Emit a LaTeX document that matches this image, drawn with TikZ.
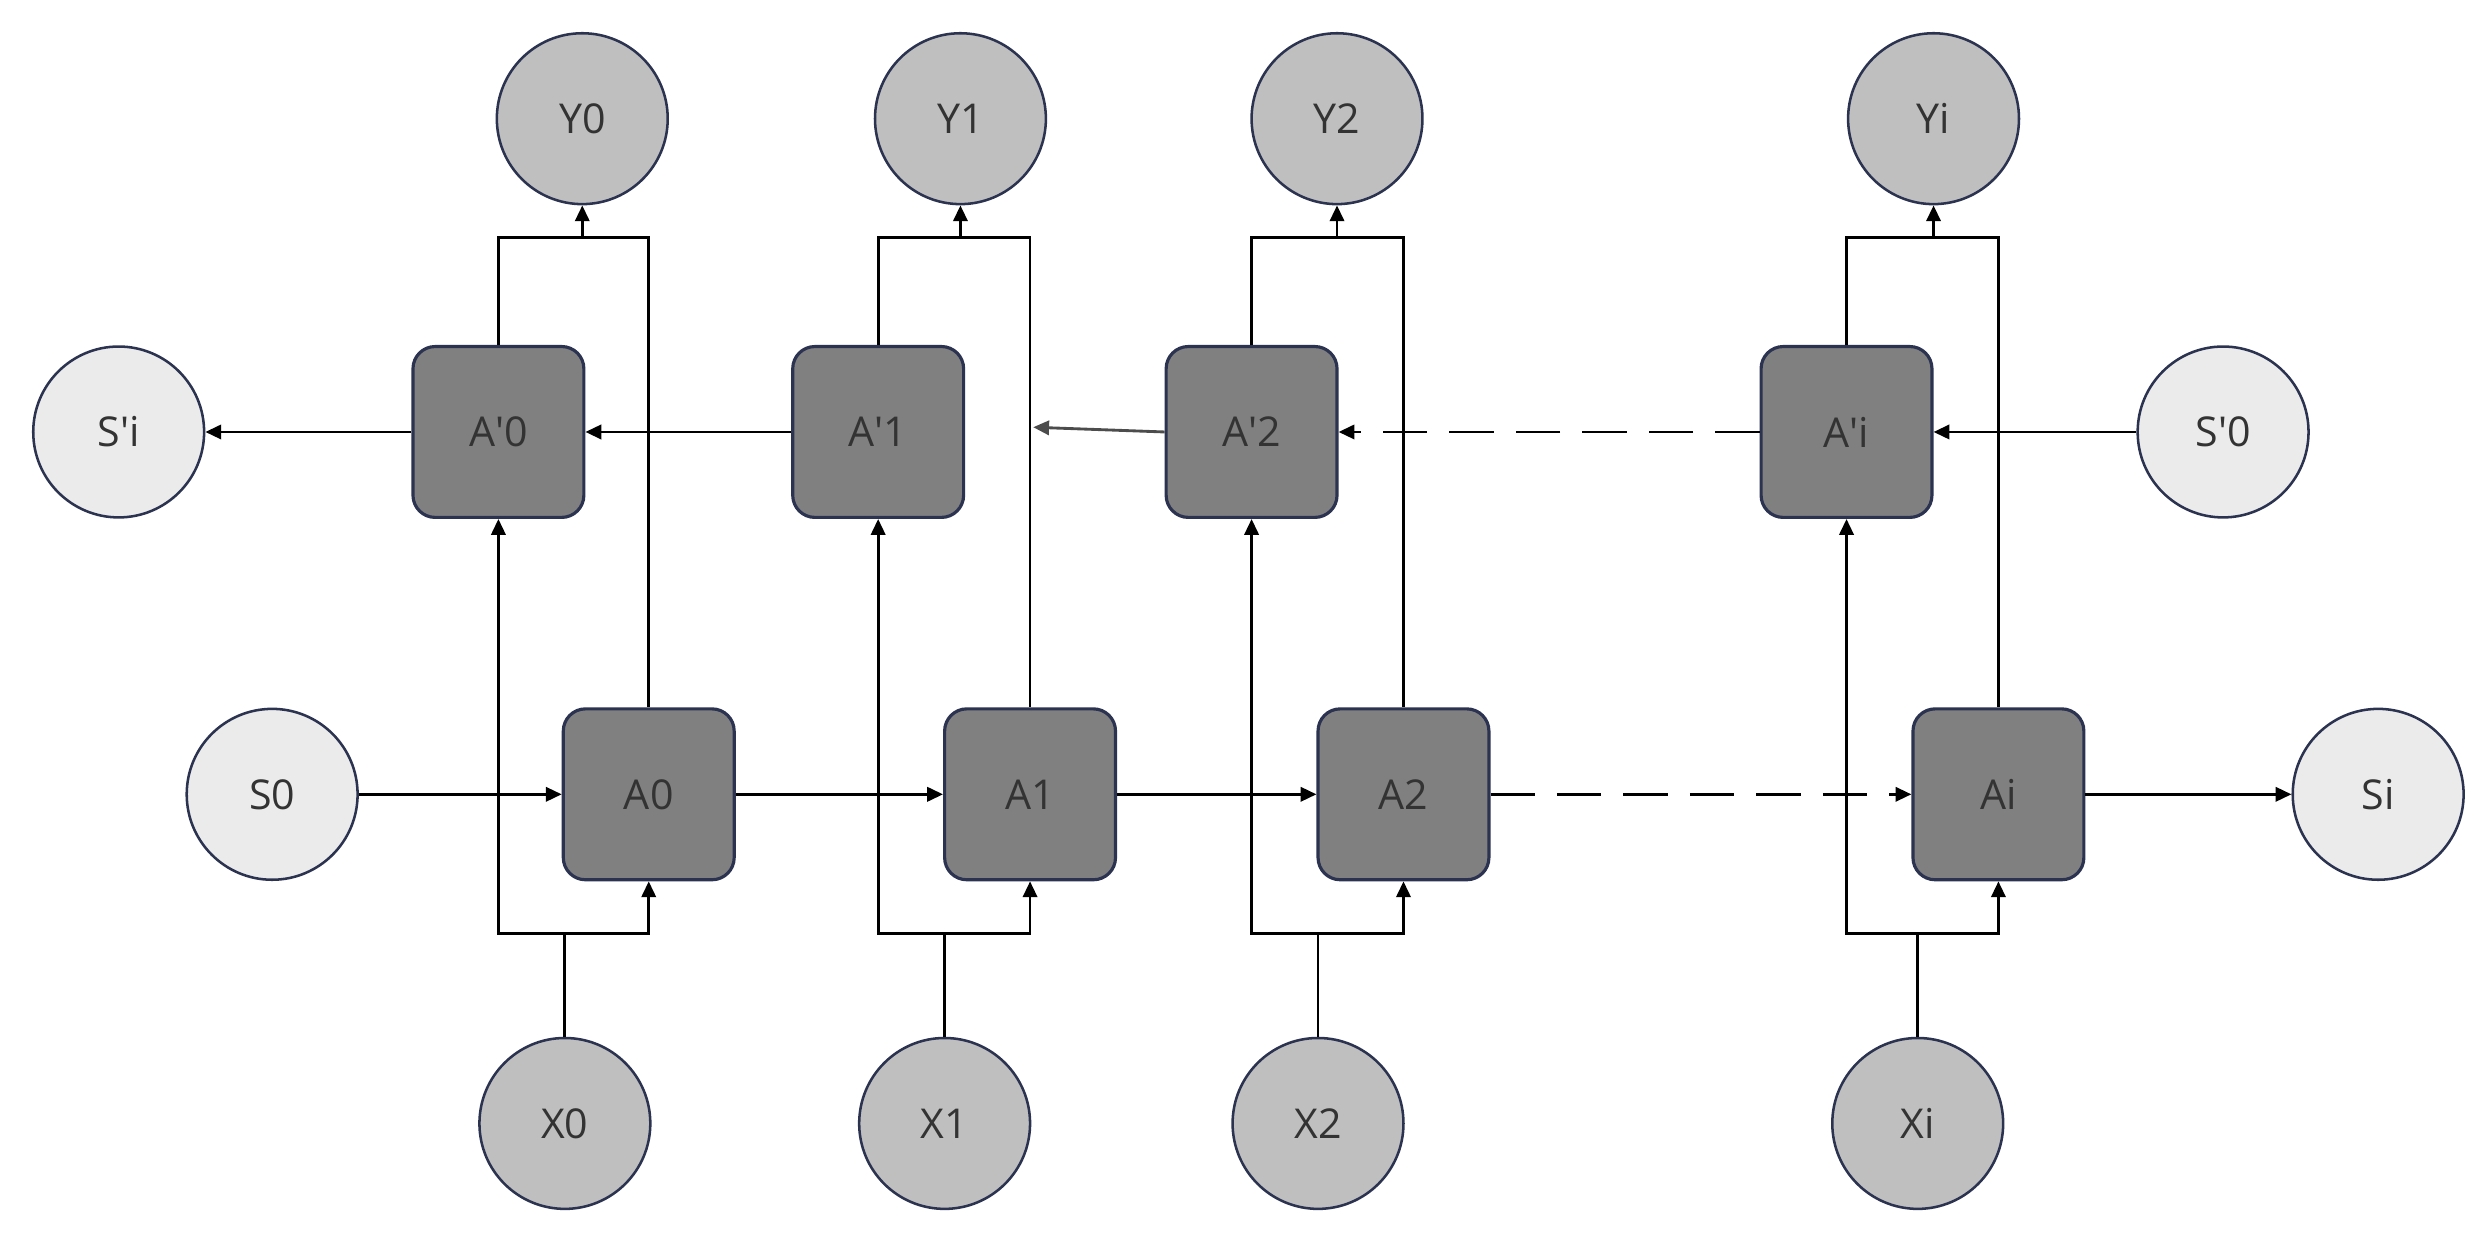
\documentclass[tikz,border=0pt]{standalone}
\usepackage{fontspec}
\setmainfont{Open Sans}
\usetikzlibrary{arrows.meta}
\definecolor{edge}{HTML}{2B3350}
\begin{document}
\begin{tikzpicture}[x=0.5pt,y=-0.5pt,
  cell/.style={draw=edge,line width=1pt,fill=black!50,rounded corners=7pt,minimum size=54pt,inner sep=0pt,font=\fontsize{13}{15}\selectfont,text=black!80},
  io/.style={circle,draw=edge,line width=0.8pt,fill=black!25,minimum size=54pt,inner sep=0pt,font=\fontsize{13}{15}\selectfont,text=black!80},
  st/.style={io,fill=black!8},
  ln/.style={line width=0.9pt},
  ar/.style={ln,-{Triangle[length=5pt,width=4.5pt]}}]
\useasboundingbox (0,0) rectangle (1568,788);
\node[io] (Y0) at (368,75) {Y0};
\node[io] (Y1) at (607,75) {Y1};
\node[io] (Y2) at (845,75) {Y2};
\node[io] (Yi) at (1222,75) {Yi};
\node[io] (X0) at (357,710) {X0};
\node[io] (X1) at (597,710) {X1};
\node[io] (X2) at (833,710) {X2};
\node[io] (Xi) at (1212,710) {Xi};
\node[st] (Spi) at (75,273) {S′i};
\node[st] (Sp0) at (1405,273) {S′0};
\node[st] (S0) at (172,502) {S0};
\node[st] (Si) at (1503,502) {Si};
\node[cell] (B0) at (315,273) {A′0};
\node[cell] (B1) at (555,273) {A′1};
\node[cell] (B2) at (791,273) {A′2};
\node[cell] (Bi) at (1167,273) {A′i};
\node[cell] (A0) at (410,502) {A0};
\node[cell] (A1) at (651,502) {A1};
\node[cell] (A2) at (887,502) {A2};
\node[cell] (Ai) at (1263,502) {Ai};
\foreach \b/\a/\y/\x in {B0/A0/Y0/X0,B1/A1/Y1/X1,B2/A2/Y2/X2,Bi/Ai/Yi/Xi}{
  \draw[ln] (\b.north) -- (\b.north |- 0,150) -- (\a.north |- 0,150) -- (\a.north);
  \draw[ar] (\y.south |- 0,150) -- (\y.south);
  \draw[ln] (\x.north) -- (\x.north |- 0,590);
  \draw[ar] (\a.south |- 0,590) -- (\b.south |- 0,590) -- (\b.south);
  \draw[ar] (\x.north |- 0,590) -- (\a.south |- 0,590) -- (\a.south);
}
\draw[ar] (S0) -- (A0);
\draw[ar] (A0) -- (A1);
\draw[ar] (A1) -- (A2);
\draw[ar,dash pattern=on 14pt off 7pt] (A2) -- (Ai);
\draw[ar] (Ai) -- (Si);
\draw[ar] (Sp0) -- (Bi);
\draw[ar,dash pattern=on 14pt off 7pt] (Bi) -- (B2);
\coordinate (m) at (653,270);
\draw[ar,draw=black!70] (B2.west) -- (m);
\draw[ar] (B1) -- (B0);
\draw[ar] (B0) -- (Spi);
\end{tikzpicture}
\end{document}
